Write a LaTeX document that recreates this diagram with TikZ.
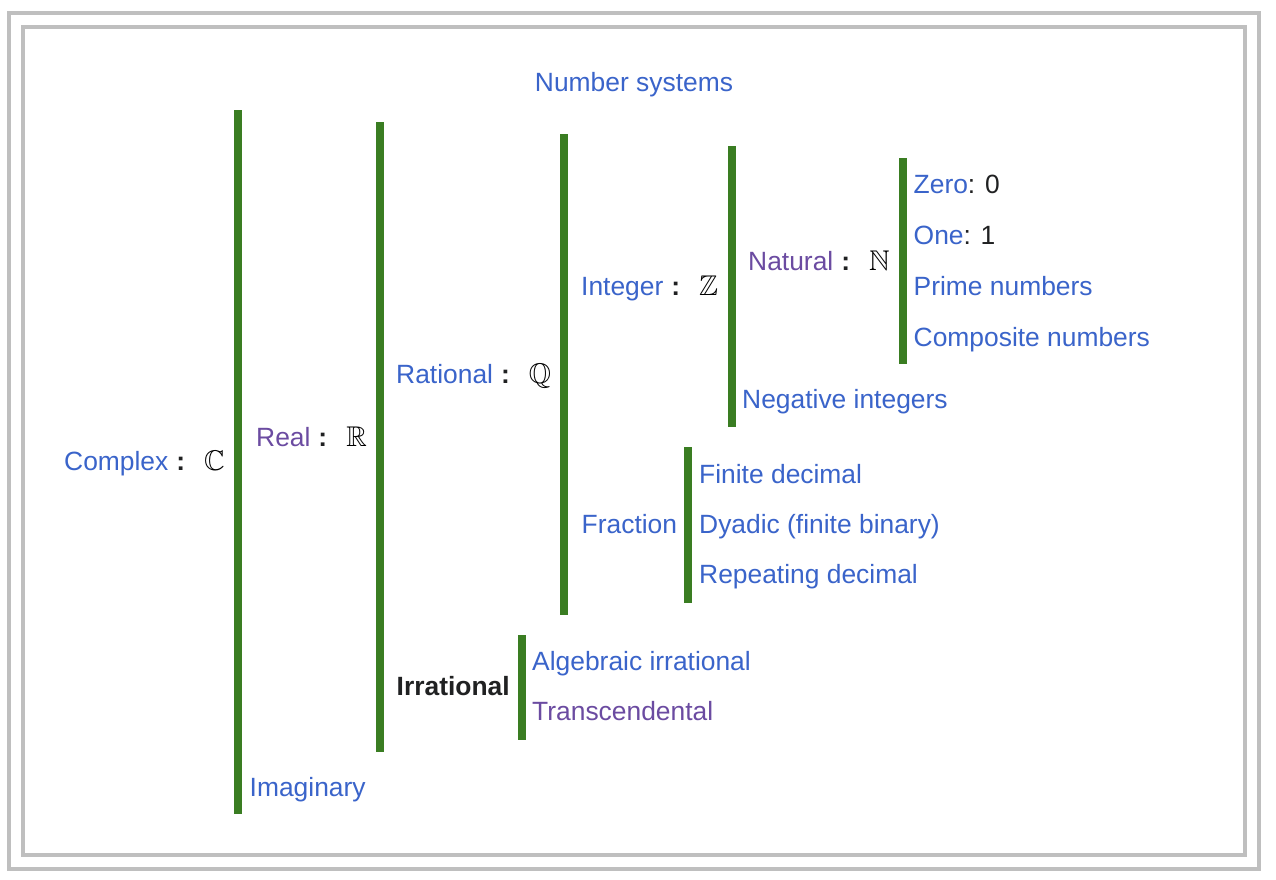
\documentclass[tikz,border=0pt]{standalone}
\usepackage{fontspec}
\usepackage{amssymb}
\setmainfont{Liberation Sans}
\definecolor{cblue}{HTML}{3A64CA}
\definecolor{cpurple}{HTML}{6B4BA1}
\definecolor{ink}{HTML}{202122}
\definecolor{cgreen}{RGB}{58,125,34}
\definecolor{frame}{HTML}{BFBFBF}
\newcommand{\bbsym}[1]{{\fontsize{28.5}{30}\selectfont$\mathbb{#1}$}}
\newcommand{\sep}[1]{\hspace{8pt}\textcolor{ink}{\bfseries :}\hspace{19pt}\textcolor{black}{\bbsym{#1}}}
\begin{document}
\begin{tikzpicture}[x=1pt,y=-1pt,
  lbl/.style={anchor=base west, inner sep=0pt, font=\fontsize{26.4}{30}\selectfont, text=cblue},
  vis/.style={lbl, text=cpurple},
  barc/.style={fill=cgreen},
  framec/.style={draw=frame, line width=4pt}]
\useasboundingbox (0,0) rectangle (1276,880);
\fill[white] (0,0) rectangle (1276,880);
% frames
\draw[framec] (9,13) rectangle (1259,869);
\draw[framec] (23,27) rectangle (1245,855);
% title
\node[lbl, anchor=base] (title) at (634,92) {Number systems};
% bars
\fill[barc] (234,110) rectangle (242,813.5);
\fill[barc] (375.5,122) rectangle (383.5,751.5);
\fill[barc] (560,134) rectangle (568,614.7);
\fill[barc] (727.5,146) rectangle (735.5,426.7);
\fill[barc] (899,158) rectangle (907,363.5);
\fill[barc] (684,447) rectangle (692,602.7);
\fill[barc] (518,635) rectangle (526,739.7);
% labels
\node[lbl] (complex) at (64,470) {Complex\sep{C}};
\node[vis] (real) at (256,446) {Real\sep{R}};
\node[lbl] (rational) at (396,383.3) {Rational\sep{Q}};
\node[lbl] (integer) at (581,295) {Integer\sep{Z}};
\node[vis] (natural) at (748,270) {Natural\sep{N}};
\node[lbl] (zero) at (913.5,193.3) {Zero\textcolor{ink}{: 0}};
\node[lbl] (one) at (913.5,244.3) {One\textcolor{ink}{: 1}};
\node[lbl] (prime) at (913.5,295) {Prime numbers};
\node[lbl] (composite) at (913.5,346) {Composite numbers};
\node[lbl] (negative) at (742,408.3) {Negative integers};
\node[lbl] (fraction) at (581.5,533.3) {Fraction};
\node[lbl] (finite) at (699,483.3) {Finite decimal};
\node[lbl] (dyadic) at (699,533.3) {Dyadic (finite binary)};
\node[lbl] (repeating) at (699,583.3) {Repeating decimal};
\node[lbl, text=ink, font=\fontsize{26.4}{30}\selectfont\bfseries] (irrational) at (396.5,695.7) {Irrational};
\node[lbl] (algebraic) at (532,670.7) {Algebraic irrational};
\node[vis] (transc) at (532,720.7) {Transcendental};
\node[lbl] (imaginary) at (249.5,796) {Imaginary};
\end{tikzpicture}
\end{document}
